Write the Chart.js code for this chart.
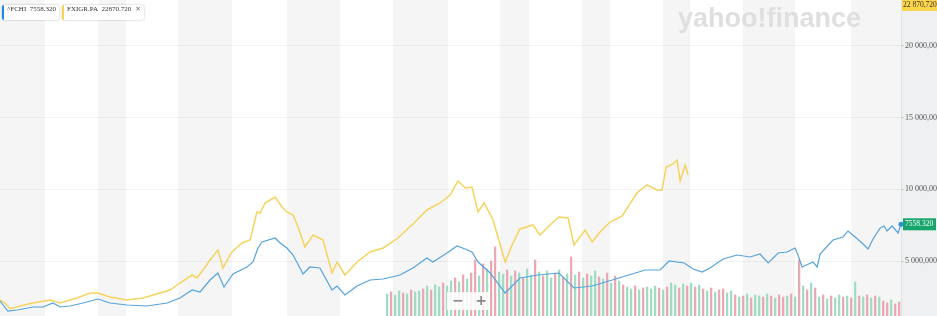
<!DOCTYPE html>
<html>
<head>
<meta charset="utf-8">
<script src="https://cdn.jsdelivr.net/npm/chart.js@4/dist/chart.umd.min.js"></script>
<style>
body { margin: 0; background: #fff; }
#wrap { position: relative; width: 937px; height: 316px; overflow: hidden; }
#pills { position: absolute; left: 2px; top: 5px; display: flex; gap: 3px; }
.pill { position: relative; height: 15px; line-height: 15px; background: #fff;
  box-shadow: 0 0 2px rgba(0,0,0,.3); border-radius: 2px; font: 7px "Liberation Serif", serif;
  color: #333; padding: 0 3px 0 5px; white-space: nowrap; }
.pill i { position: absolute; left: 0; top: 0; bottom: 0; width: 2px; border-radius: 2px 0 0 2px; }
.pill b { font-weight: normal; color: #777; margin-left: 4px; font-family: "DejaVu Sans"; font-size: 7px; }
</style>
</head>
<body>
<div id="wrap">
  <canvas id="c"></canvas>
  <div id="pills">
    <div class="pill"><i style="background:#1e88e5"></i>^FCHI&nbsp; 7558.320</div>
    <div class="pill"><i style="background:#f8d34c"></i>FXIGR.PA&nbsp; 22870.720<b>&#x2715;</b></div>
  </div>
</div>
<script>
// ^FCHI (blue), decimal years / index points
var blueYears = [1989.80,1990.10,1990.45,1991.05,1991.43,1991.81,1992.08,1992.46,1992.95,1993.52,
  1993.97,1994.62,1995.38,1996.14,1996.63,1997.09,1997.39,1997.77,1998.07,1998.30,
  1998.64,1999.17,1999.40,1999.59,1999.74,2000.24,2000.43,2000.69,2000.92,2001.30,
  2001.56,2001.94,2002.40,2002.59,2002.89,2003.35,2003.84,2004.34,2004.98,2005.47,
  2006.00,2006.23,2006.76,2007.14,2007.45,2007.71,2007.94,2008.40,2008.97,2009.53,
  2010.22,2011.01,2011.58,2012.27,2013.41,2014.28,2014.85,2015.19,2015.76,2016.10,
  2016.44,2016.74,2017.24,2017.77,2018.26,2018.64,2018.95,2019.33,2019.67,2019.97,
  2020.08,2020.24,2020.65,2020.81,2020.92,2021.41,2021.79,2021.98,2022.25,2022.51,
  2022.74,2022.93,2023.20,2023.35,2023.46,2023.65,2023.88,2023.99];
var blueVals = [2211,1513,1583,1792,1792,2071,1792,1862,2071,2350,
  2071,1932,1862,2071,2420,2978,2838,3675,4163,3187,
  4094,4582,4931,5907,6325,6604,6255,5907,5418,4094,
  4582,4512,2978,3257,2629,3257,3675,3745,4024,4512,
  5209,4931,5558,6046,5837,5628,4931,4163,2769,3815,
  4024,4163,3118,3257,3885,4373,4373,5000,4861,4442,
  4233,4512,5140,5418,5279,5488,4861,5558,5628,5907,
  5418,4582,4931,4582,5488,6465,6674,7093,6674,6255,
  5837,6535,7302,7441,7093,7441,6953,7558.32];

// FXIGR.PA (yellow)
var yellowYears = [1989.80,1989.99,1990.18,1990.56,1991.05,1991.70,1992.08,1992.72,1993.22,1993.52,
  1993.97,1994.62,1995.23,1995.87,1996.25,1996.63,1997.09,1997.28,1997.50,1997.77,
  1998.07,1998.26,1998.60,1998.98,1999.29,1999.55,1999.67,1999.86,2000.24,2000.50,
  2000.69,2000.92,2001.11,2001.37,2001.68,2002.06,2002.40,2002.59,2002.89,2003.35,
  2003.84,2004.34,2004.90,2005.47,2006.00,2006.50,2006.88,2007.18,2007.45,2007.71,
  2007.94,2008.17,2008.51,2008.97,2009.23,2009.53,2010.03,2010.29,2010.67,2011.01,
  2011.36,2011.58,2012.00,2012.27,2012.57,2012.95,2013.41,2013.97,2014.35,2014.73,
  2014.92,2015.08,2015.34,2015.49,2015.61,2015.80,2015.91];
var yellowVals = [2281,2071,1653,1862,2071,2281,2071,2420,2769,2769,
  2490,2281,2420,2769,2978,3466,4024,3815,4373,5070,
  5767,4512,5628,6255,6465,8418,8348,9045,9463,8766,
  8418,8209,7372,5976,6813,6465,4163,4931,4024,4931,
  5628,5907,6604,7581,8558,9045,9603,10580,10092,10162,
  8418,9045,7860,4931,6116,7232,7511,6813,7511,8069,
  8000,6116,7162,6325,7023,7720,8139,9743,10301,9952,
  9952,11556,11765,12044,10580,11695,10998];
var yellowLabel = 22870.72;

// volume, from mid 2004, roughly every 8 weeks
var volStart = 2004.49, volStep = 0.1518;
var volumes = [22,24,21,25,23,22,26,24,25,
  27,30,26,31,29,33,30,
  35,38,34,41,37,43,56,40,
  52,47,55,69,44,
  42,46,40,45,43,38,47,41,56,44,
  40,45,38,43,46,39,42,
  59,
  41,44,38,42,40,45,39,
  37,43,33,40,35,31,
  29,27,30,26,28,29,27,30,28,26,29,33,31,28,
  32,30,33,29,31,
  27,25,28,24,26,27,23,25,
  21,19,20,22,18,21,20,19,22,20,18,21,19,20,22,19,
  56,
  30,26,33,28,
  19,21,17,20,18,21,19,20,18,
  34,
  20,19,21,18,20,19,
  15,13,16,12,14];
var volDir = "grggrgrgg" + "rgrggrg" + "grgrgrrg" + "rgrrg" + "grgrgrggrg" + "rggrgrg" + "r" +
  "grgrggr" + "grgrgr" + "ggrgrgggrgrggr" + "grgrg" + "rgrgrrgg" + "rgrgrggrgrgrrgrg" + "r" +
  "grgr" + "grgrggrgr" + "g" + "rgrgrg" + "rrgrr";

// shaded year bands
var bandFrom = [1989.8, 1993.52, 1996.56, 2000.69, 2004.71, 2008.78, 2011.89, 2014.96, 2017.99, 2022.10];
var bandTo = [1991.51, 1994.58, 1998.60, 2002.70, 2006.80, 2009.88, 2012.95, 2015.99, 2019.97, 2024.0];

var yTicks = [5000, 10000, 15000, 20000];

function fmt(v) {
    var p = v.toFixed(3).split(".");
    return p[0].replace(/\B(?=(\d{3})+(?!\d))/g, " ") + "," + p[1];
}

var decor = {
    id: "decor",
    beforeDraw: function (chart) {
        var ctx = chart.ctx, a = chart.chartArea, x = chart.scales.x;
        ctx.save();
        ctx.fillStyle = "#f5f5f5";
        bandFrom.forEach(function (b, i) {
            var l = x.getPixelForValue(b), r = Math.min(x.getPixelForValue(bandTo[i]), a.right);
            ctx.fillRect(l, a.top, r - l, a.bottom - a.top);
        });
        ctx.fillStyle = "#eff0f2";
        ctx.fillRect(a.right, 0, chart.width - a.right, chart.height);
        ctx.fillStyle = "#e2e3e5";
        ctx.fillRect(a.right, 0, 1, chart.height);
        ctx.fillStyle = "#dfdfe2";
        ctx.font = "bold 27px 'Liberation Sans'";
        ctx.textBaseline = "alphabetic";
        ctx.fillText("yahoo!finance", 678, 27);
        ctx.restore();
    },
    afterDraw: function (chart) {
        var ctx = chart.ctx, a = chart.chartArea, y = chart.scales.y;
        var last = blueVals[blueVals.length - 1];
        var py = y.getPixelForValue(last);
        ctx.save();
        ctx.fillStyle = "#2f8fd8";
        ctx.beginPath();
        ctx.arc(a.right, py, 2.5, 0, Math.PI * 2);
        ctx.fill();
        ctx.fillStyle = "#17a56c";
        ctx.fillRect(a.right + 2, py - 6, 33, 12);
        ctx.fillStyle = "#fff";
        ctx.font = "7.5px 'Liberation Serif'";
        ctx.textBaseline = "middle";
        ctx.fillText(last.toFixed(3), a.right + 4, py);
        var ty = Math.max(5.5, y.getPixelForValue(yellowLabel));
        ctx.fillStyle = "#fbd54a";
        ctx.fillRect(a.right + 1, ty - 5.5, 35, 11);
        ctx.fillStyle = "#333";
        ctx.fillText(fmt(yellowLabel), a.right + 2, ty);
        // zoom control
        ctx.fillStyle = "rgba(255,255,255,0.85)";
        ctx.fillRect(447, 292, 43, 18);
        ctx.fillStyle = "#8a8a8a";
        ctx.font = "bold 14px 'DejaVu Sans'";
        ctx.textAlign = "center";
        ctx.fillText("\u2212", 458, 301);
        ctx.fillText("+", 481, 301);
        ctx.restore();
    }
};

var ctx = document.getElementById("c").getContext("2d");
new Chart(ctx, {
    data: {
        datasets: [{
            type: "line",
            data: blueYears.map(function (t, i) { return { x: t, y: blueVals[i] }; }),
            borderColor: "#55a3dc",
            borderWidth: 1.2,
            pointRadius: 0,
            tension: 0,
            order: 1
        }, {
            type: "line",
            data: yellowYears.map(function (t, i) { return { x: t, y: yellowVals[i] }; }),
            borderColor: "#f6d35f",
            borderWidth: 1.5,
            pointRadius: 0,
            tension: 0,
            order: 2
        }, {
            type: "bar",
            yAxisID: "vol",
            data: volumes.map(function (v, i) { return { x: volStart + i * volStep, y: v }; }),
            backgroundColor: volumes.map(function (v, i) { return volDir[i] === "r" ? "#eaa8b3" : "#9fdcc4"; }),
            barThickness: 1.6,
            order: 3
        }]
    },
    options: {
        responsive: true,
        maintainAspectRatio: false,
        animation: false,
        layout: { padding: 0 },
        plugins: { legend: { display: false }, tooltip: { enabled: false } },
        scales: {
            x: { type: "linear", display: false, offset: false, min: 1989.8, max: 2023.99 },
            y: {
                position: "right",
                min: 1165,
                max: 23200,
                afterFit: function (s) { s.width = 36; s.paddingTop = 0; s.paddingBottom = 0; },
                afterBuildTicks: function (s) { s.ticks = yTicks.map(function (v) { return { value: v }; }); },
                border: { display: false },
                grid: { color: "rgba(0,0,0,0.05)", tickColor: "#c8c8c8", tickLength: 3 },
                ticks: {
                    color: "#555",
                    padding: 1,
                    font: { family: "Liberation Serif", size: 8 },
                    callback: function (value) { return fmt(value); }
                }
            },
            vol: { display: false, min: 0, max: 316 }
        }
    },
    plugins: [decor]
});
</script>
</body>
</html>
